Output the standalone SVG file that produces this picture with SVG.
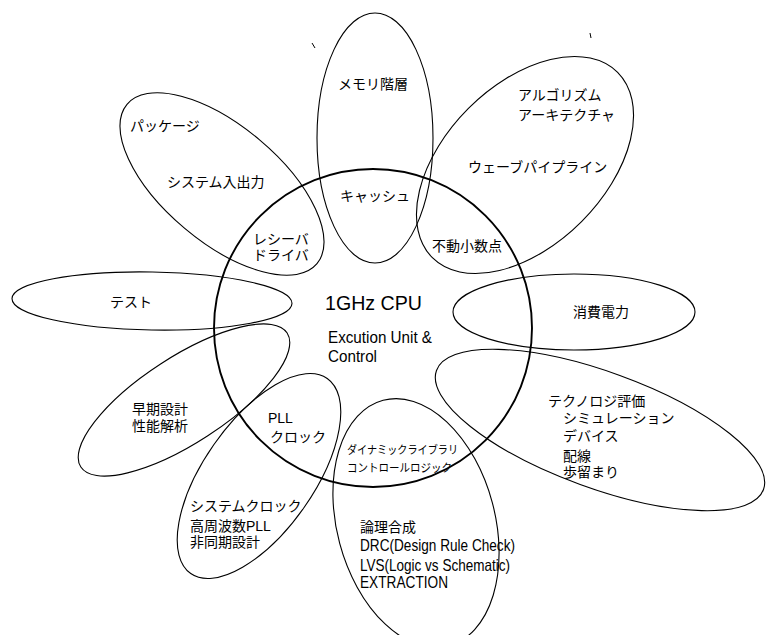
<svg xmlns="http://www.w3.org/2000/svg" width="773" height="635" viewBox="0 0 773 635">
<style>
.p{fill:none;stroke:#000;stroke-width:1.1}
.c{fill:none;stroke:#000;stroke-width:1.9}
.j{font-family:"Liberation Sans","Noto Sans CJK JP",sans-serif;font-size:14px;fill:#000}
.s{font-family:"Liberation Sans","Noto Sans CJK JP",sans-serif;font-size:11.5px;fill:#000}
.l{font-family:"Liberation Sans",sans-serif;fill:#000}
.m{fill:none;stroke:#000;stroke-width:1}
</style>
<rect width="773" height="635" fill="#fff"/>
<g id="marks">
<line class="m" x1="312" y1="43" x2="315" y2="48"/>
<line class="m" x1="590" y1="33" x2="591" y2="38"/>
</g>
<g id="petal-memory">
<ellipse class="p" cx="375" cy="138" rx="58" ry="125"/>
<text class="j" x="338" y="89">メモリ階層</text>
<text class="j" x="340" y="201">キャッシュ</text>
</g>
<g id="petal-algorithm">
<ellipse class="p" cx="525" cy="165" rx="131" ry="80" transform="rotate(-45 525 165)"/>
<text class="j" x="518" y="99.5">アルゴリズム</text>
<text class="j" x="518" y="119.5">アーキテクチャ</text>
<text class="j" x="468" y="172">ウェーブパイプライン</text>
<text class="j" x="432" y="250.5">不動小数点</text>
</g>
<g id="petal-package">
<ellipse class="p" cx="222" cy="184" rx="124" ry="58" transform="rotate(40 222 184)"/>
<text class="j" x="130" y="130.5">パッケージ</text>
<text class="j" x="167" y="187">システム入出力</text>
<text class="j" x="253" y="244">レシーバ</text>
<text class="j" x="253" y="260">ドライバ</text>
</g>
<g id="petal-test">
<ellipse class="p" cx="152" cy="301" rx="140" ry="29" transform="rotate(1 152 301)"/>
<text class="j" x="110" y="307">テスト</text>
</g>
<g id="petal-power">
<ellipse class="p" cx="574" cy="312" rx="121" ry="38"/>
<text class="j" x="573" y="317">消費電力</text>
</g>
<g id="petal-early">
<ellipse class="p" cx="184" cy="400" rx="123" ry="43" transform="rotate(-33 184 400)"/>
<text class="j" x="132" y="414">早期設計</text>
<text class="j" x="132" y="430.5">性能解析</text>
</g>
<g id="petal-pll">
<ellipse class="p" cx="259" cy="476" rx="119" ry="55" transform="rotate(-55 259 476)"/>
<text class="j" x="268" y="423">PLL</text>
<text class="j" x="270" y="442">クロック</text>
<text class="j" x="190" y="510.5">システムクロック</text>
<text class="j" x="190" y="530.5">高周波数PLL</text>
<text class="j" x="190" y="547">非同期設計</text>
</g>
<g id="petal-tech">
<ellipse class="p" cx="600" cy="430" rx="174" ry="58" transform="rotate(20 600 430)"/>
<text class="j" x="548" y="405.5">テクノロジ評価</text>
<text class="j" x="563" y="423">シミュレーション</text>
<text class="j" x="563" y="441">デバイス</text>
<text class="j" x="563" y="460.5">配線</text>
<text class="j" x="563" y="477">歩留まり</text>
</g>
<g id="petal-logic">
<ellipse class="p" cx="416" cy="523" rx="79" ry="127" transform="rotate(-15 416 523)"/>
<text class="s" x="347" y="454" textLength="111" lengthAdjust="spacingAndGlyphs">ダイナミックライブラリ</text>
<text class="s" x="347" y="472" textLength="105" lengthAdjust="spacingAndGlyphs">コントロールロジック</text>
<text class="j" x="360" y="532">論理合成</text>
<text class="l" x="360" y="551" font-size="16.5" textLength="155" lengthAdjust="spacingAndGlyphs">DRC(Design Rule Check)</text>
<text class="l" x="360" y="571" font-size="16.5" textLength="150" lengthAdjust="spacingAndGlyphs">LVS(Logic vs Schematic)</text>
<text class="l" x="360" y="587.5" font-size="16.5" textLength="88" lengthAdjust="spacingAndGlyphs">EXTRACTION</text>
</g>
<g id="cpu">
<circle class="c" cx="373" cy="328" r="159"/>
<text class="l" x="325" y="310" font-size="20" textLength="97" lengthAdjust="spacingAndGlyphs">1GHz CPU</text>
<text class="l" x="328" y="343" font-size="16" textLength="104" lengthAdjust="spacingAndGlyphs">Excution Unit &amp;</text>
<text class="l" x="328" y="361.5" font-size="16" textLength="49" lengthAdjust="spacingAndGlyphs">Control</text>
</g>
</svg>
